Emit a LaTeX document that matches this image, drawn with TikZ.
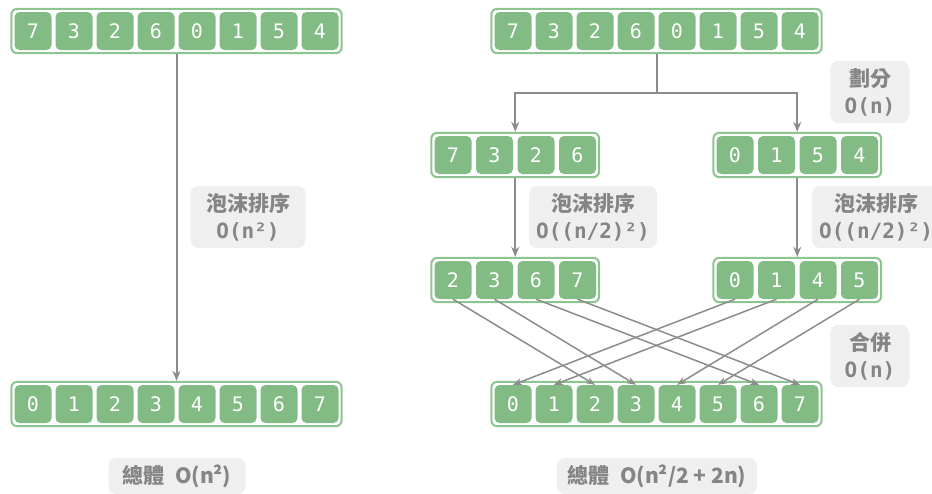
\documentclass[tikz,border=0pt]{standalone}
\usepackage{fontspec}
\setmonofont{DejaVu Sans Mono}
\newfontfamily\cjk{Noto Sans CJK TC}
\usepackage{xcolor}
\usetikzlibrary{arrows.meta,positioning,fit,calc}
\definecolor{cellgreen}{HTML}{83BB85}
\definecolor{rimgreen}{HTML}{8CC58F}
\definecolor{notebg}{HTML}{EFEFEF}
\definecolor{notetext}{HTML}{858585}
\definecolor{linegray}{HTML}{8C8C8C}

\begin{document}
\begin{tikzpicture}[
    x=1pt, y=-1pt,
    cell/.style={rectangle, rounded corners=5pt, fill=cellgreen, minimum width=37pt, minimum height=38pt, inner sep=0pt, text=white, font=\ttfamily\fontsize{20}{22}\selectfont},
    rim/.style={rectangle, rounded corners=6pt, draw=rimgreen, line width=2pt, inner sep=3pt},
    note/.style={rectangle, rounded corners=8pt, fill=notebg, text=notetext, align=center, inner sep=0pt, font=\cjk\bfseries\fontsize{21}{27}\selectfont},
    arrow/.style={-{Stealth[length=10pt,width=8pt]}, draw=linegray, line width=2pt},
    thin arrow/.style={-{Stealth[length=9pt,width=7pt]}, draw=linegray, line width=1.5pt}
]
\useasboundingbox (0,0) rectangle (932,493);

% left: bubble sort on the whole array
\foreach \v [count=\i from 0] in {7,3,2,6,0,1,5,4}
  \node[cell] (a\i) at (33+41*\i,31) {\v};
\node[rim, fit=(a0)(a7)] (arrA) {};
\foreach \v [count=\i from 0] in {0,1,2,3,4,5,6,7}
  \node[cell] (c\i) at (33+41*\i,404) {\v};
\node[rim, fit=(c0)(c7)] (arrC) {};

\draw[arrow] (arrA) -- (arrC);
\node[note, minimum width=115pt, minimum height=62pt] (sortA) at (248,217) {泡沫排序\\{\ttfamily O(n²)}};
\node[note, minimum width=137pt, minimum height=36pt] (totalA) at (177,476) {總體\hspace{0.5em}O(n²)};

% right: split, sort both halves, merge
\foreach \v [count=\i from 0] in {7,3,2,6,0,1,5,4}
  \node[cell] (b\i) at (513+41*\i,31) {\v};
\node[rim, fit=(b0)(b7)] (arrB) {};

\foreach \v [count=\i from 0] in {7,3,2,6}
  \node[cell] (hl\i) at (453+41.5*\i,155) {\v};
\node[rim, fit=(hl0)(hl3)] (arrHL) {};
\foreach \v [count=\i from 0] in {0,1,5,4}
  \node[cell] (hr\i) at (735+41.5*\i,155) {\v};
\node[rim, fit=(hr0)(hr3)] (arrHR) {};

\foreach \v [count=\i from 0] in {2,3,6,7}
  \node[cell] (sl\i) at (453+41.5*\i,280) {\v};
\node[rim, fit=(sl0)(sl3)] (arrSL) {};
\foreach \v [count=\i from 0] in {0,1,4,5}
  \node[cell] (sr\i) at (735+41.5*\i,280) {\v};
\node[rim, fit=(sr0)(sr3)] (arrSR) {};

\foreach \v [count=\i from 0] in {0,1,2,3,4,5,6,7}
  \node[cell] (rb\i) at (513+41*\i,404) {\v};
\node[rim, fit=(rb0)(rb7)] (arrRB) {};

\coordinate (fork) at ($(arrB.south)+(0,39)$);
\draw[arrow] (arrB.south) -- (fork) -| (arrHL);
\draw[arrow] (fork) -| (arrHR);
\node[note, minimum width=79pt, minimum height=62pt] (split) at (870,92) {劃分\\{\ttfamily O(n)}};

\draw[arrow] (arrHL) -- (arrSL);
\draw[arrow] (arrHR) -- (arrSR);
\node[note, minimum width=128pt, minimum height=62pt] (sortL) at (593,217) {泡沫排序\\{\ttfamily O((n/2)²)}};
\node[note, minimum width=128pt, minimum height=62pt] (sortR) at (876,217) {泡沫排序\\{\ttfamily O((n/2)²)}};

\foreach \s/\t in {l0/2,l1/3,l2/6,l3/7,r0/0,r1/1,r2/4,r3/5}
  \draw[thin arrow] (s\s.south) -- (rb\t.north);
\node[note, minimum width=79pt, minimum height=62pt] (merge) at (870,356) {合併\\{\ttfamily O(n)}};

\node[note, minimum width=200pt, minimum height=36pt] (totalB) at (657,476) {總體\hspace{0.5em}O(n²/2 + 2n)};
\end{tikzpicture}
\end{document}
